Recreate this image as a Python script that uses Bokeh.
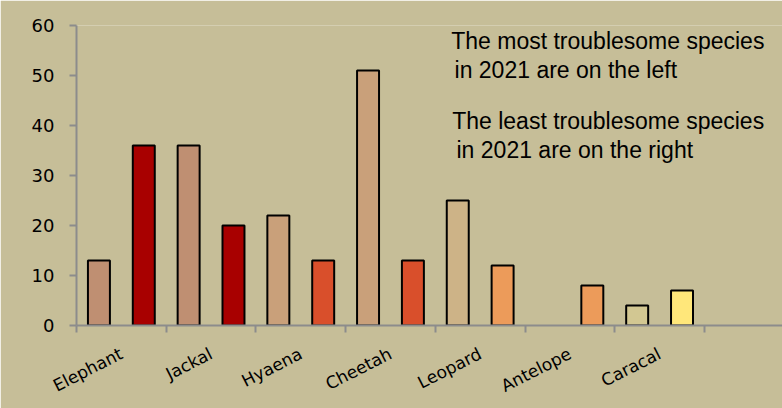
from bokeh.plotting import figure
from bokeh.models import ColumnDataSource, FixedTicker, Label, Range1d
from bokeh.embed import file_html
from bokeh.resources import INLINE

species = ["Elephant", "Jackal", "Hyaena", "Cheetah", "Leopard", "Antelope", "Caracal"]
first_vals = [13, 36, 22, 51, 25, None, 4]
second_vals = [36, 20, 13, 13, 12, 8, 7]
first_colors = ["#BF8F72", "#BF8F72", "#C9A07A", "#C9A07A", "#CDB387", "#CDB387", "#D2C792"]
second_colors = ["#A80000", "#A80000", "#D94F2B", "#D94F2B", "#EC9B5A", "#EC9B5A", "#FFE77A"]
y_ticks = [0, 10, 20, 30, 40, 50, 60]
notes = ["The most troublesome species", "in 2021 are on the left",
         "The least troublesome species", "in 2021 are on the right"]

BG = "#C6BE98"
AXIS = "#8C8C8C"

xs, tops, cols = [], [], []
for i, (a, b) in enumerate(zip(first_vals, second_vals)):
    if a is not None:
        xs.append(i + 0.25); tops.append(a); cols.append(first_colors[i])
    if b is not None:
        xs.append(i + 0.75); tops.append(b); cols.append(second_colors[i])
src = ColumnDataSource(dict(x=xs, top=tops, color=cols))

p = figure(width=782, height=408, output_backend="svg", toolbar_location=None,
           x_range=Range1d(0, 7.87), y_range=Range1d(0, 60),
           min_border_left=76, min_border_right=0, min_border_top=25, min_border_bottom=83)
p.background_fill_color = BG
p.border_fill_color = BG
p.outline_line_color = None
p.grid.visible = False

p.vbar(x="x", top="top", width=0.245, bottom=0, source=src,
       fill_color="color", line_color="black", line_width=2)

centers = [i + 0.5 for i in range(len(species))]
xa = p.xaxis[0]
xa.ticker = FixedTicker(ticks=centers, minor_ticks=list(range(0, 9)))
xa.major_label_overrides = {c: s for c, s in zip(centers, species)}
xa.major_tick_line_color = None
xa.minor_tick_line_color = AXIS
xa.minor_tick_line_width = 2
xa.minor_tick_out = 7
xa.minor_tick_in = 0
xa.axis_line_color = AXIS
xa.axis_line_width = 2
xa.major_label_orientation = 0.47
xa.major_label_standoff = 20
xa.major_label_text_font = "DejaVu Sans"
xa.major_label_text_font_size = "17px"
xa.major_label_text_color = "black"

ya = p.yaxis[0]
ya.ticker = FixedTicker(ticks=y_ticks)
ya.major_tick_line_color = AXIS
ya.major_tick_line_width = 2
ya.major_tick_out = 7
ya.major_tick_in = 0
ya.minor_tick_line_color = None
ya.axis_line_color = AXIS
ya.axis_line_width = 2
ya.major_label_standoff = 15
ya.major_label_text_font = "DejaVu Sans"
ya.major_label_text_font_size = "18px"
ya.major_label_text_color = "black"

positions = [(4.177, 56.86), (4.214, 51.14), (4.188, 40.86), (4.236, 35.2)]
for (lx, ly), t in zip(positions, notes):
    p.add_layout(Label(x=lx, y=ly, text=t, text_font="Liberation Sans",
                       text_font_size="23px", text_color="black",
                       text_baseline="alphabetic", text_align="left"))

open("out.html", "w").write(file_html(p, INLINE))
